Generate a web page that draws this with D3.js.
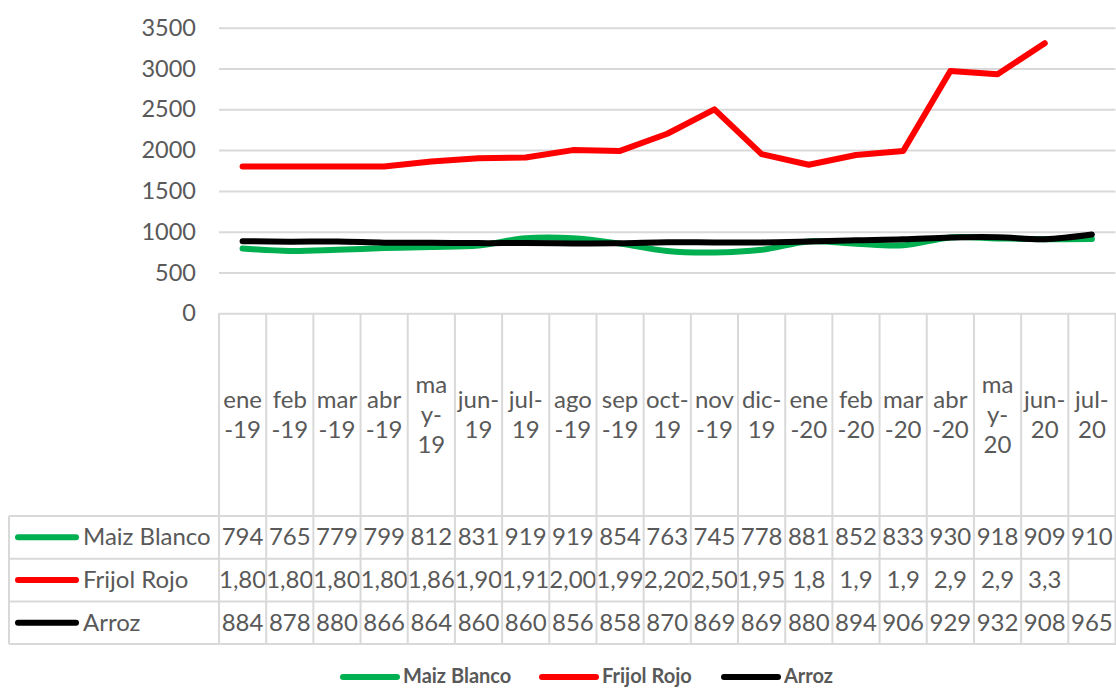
<!DOCTYPE html>
<html lang="es">
<head>
  <meta charset="UTF-8">
  <title>Precios granos básicos</title>
  <script src="https://cdnjs.cloudflare.com/ajax/libs/d3/7.8.5/d3.min.js"></script>
  <style>
    body { margin: 0; background: #fff; }
    text { font-family: Lato, "Open Sans", sans-serif; fill: #595959; }
    .grid line { stroke: #d9d9d9; stroke-width: 2; }
    .grid .domain { display: none; }
    .grid text { font-size: 23.5px; }
    .tbl { stroke: #d9d9d9; stroke-width: 2; }
    .cell { font-size: 24px; }
    .legend text { font-size: 20px; font-weight: bold; }
  </style>
</head>
<body>
  <div id="chart"></div>
  <script>
    // categories (months) and the way Excel wrapped them in the table header
    var categories = ["ene-19","feb-19","mar-19","abr-19","may-19","jun-19","jul-19","ago-19","sep-19","oct-19",
                      "nov-19","dic-19","ene-20","feb-20","mar-20","abr-20","may-20","jun-20","jul-20"];
    var tickLines = [["ene","-19"],["feb","-19"],["mar","-19"],["abr","-19"],["ma","y-","19"],["jun-","19"],["jul-","19"],
                     ["ago","-19"],["sep","-19"],["oct-","19"],["nov","-19"],["dic-","19"],["ene","-20"],["feb","-20"],
                     ["mar","-20"],["abr","-20"],["ma","y-","20"],["jun-","20"],["jul-","20"]];
    var yTicks = [0, 500, 1000, 1500, 2000, 2500, 3000, 3500];

    // series values
    var maizBlanco = [794,765,779,799,812,831,919,919,854,763,745,778,881,852,833,930,918,909,910];
    var frijolRojo = [1800,1800,1800,1800,1860,1900,1910,2000,1990,2200,2500,1950,1820,1940,1990,2970,2930,3310,null];
    var arroz      = [884,878,880,866,864,860,860,856,858,870,869,869,880,894,906,929,932,908,965];

    // text shown in the data table (Frijol Rojo cells are clipped in the original)
    var maizText   = maizBlanco.map(String);
    var frijolText = ["1,80","1,80","1,80","1,80","1,86","1,90","1,91","2,00","1,99","2,20","2,50","1,95",
                      "1,8","1,9","1,9","2,9","2,9","3,3",""];
    var arrozText  = arroz.map(String);

    var series = [
      {name: "Maiz Blanco", values: maizBlanco, text: maizText,   color: "#00b050", smooth: true},
      {name: "Frijol Rojo", values: frijolRojo, text: frijolText, color: "#ff0000", smooth: false},
      {name: "Arroz",       values: arroz,      text: arrozText,  color: "#000000", smooth: true}
    ];

    var W = 1116, H = 688;
    var plotLeft = 219, plotRight = 1115.5, plotTop = 27.7, plotBottom = 313.3;
    var tableTop = 516, rowH = 42.7, tableLeft = 9;

    var svg = d3.select("#chart").append("svg")
        .attr("width", W)
        .attr("height", H);

    var x = d3.scaleBand().domain(categories).range([plotLeft, plotRight]);
    var y = d3.scaleLinear().domain([0, 3500]).range([plotBottom, plotTop]);

    // horizontal gridlines + y labels
    svg.append("g")
        .attr("class", "grid")
        .attr("transform", "translate(" + plotLeft + ",0)")
        .call(d3.axisLeft(y).tickValues(yTicks).tickSize(-(plotRight - plotLeft)).tickPadding(23).tickFormat(d3.format("d")));

    // category header + data table grid
    var tableBottom = tableTop + rowH * series.length;
    var bounds = categories.map(function(c) { return x(c); }).concat([plotRight]);
    svg.append("g").selectAll("line.v")
      .data(bounds)
      .join("line")
        .attr("class", "tbl")
        .attr("x1", function(d) { return d; }).attr("x2", function(d) { return d; })
        .attr("y1", plotBottom).attr("y2", tableBottom);
    svg.append("g").selectAll("line.h")
      .data(d3.range(series.length + 1))
      .join("line")
        .attr("class", "tbl")
        .attr("x1", tableLeft).attr("x2", W)
        .attr("y1", function(i) { return tableTop + i * rowH; })
        .attr("y2", function(i) { return tableTop + i * rowH; });
    svg.append("line").attr("class", "tbl")
        .attr("x1", tableLeft).attr("x2", tableLeft)
        .attr("y1", tableTop).attr("y2", tableBottom);

    // wrapped category labels
    var headMid = (plotBottom + tableTop) / 2, lineGap = 30;
    categories.forEach(function(c, i) {
      var lines = tickLines[i];
      var t = svg.append("text")
          .attr("class", "cell")
          .attr("text-anchor", "middle");
      lines.forEach(function(s, k) {
        t.append("tspan")
          .attr("x", x(c) + x.bandwidth() / 2)
          .attr("y", headMid - (lines.length - 1) * lineGap / 2 + 8 + k * lineGap)
          .text(s);
      });
    });

    // table rows
    var defs = svg.append("defs");
    series.forEach(function(s, r) {
      var cy = tableTop + rowH * r + rowH / 2;
      svg.append("line")
          .attr("x1", 18).attr("x2", 76)
          .attr("y1", cy).attr("y2", cy)
          .attr("stroke", s.color).attr("stroke-width", 6).attr("stroke-linecap", "round");
      svg.append("text").attr("class", "cell")
          .attr("x", 83).attr("y", cy + 8)
          .text(s.name);
      categories.forEach(function(c, i) {
        var id = "clip" + r + "_" + i;
        defs.append("clipPath").attr("id", id)
          .append("rect")
            .attr("x", x(c) + 1).attr("y", cy - rowH / 2)
            .attr("width", x.bandwidth() - 2).attr("height", rowH);
        svg.append("text").attr("class", "cell")
            .attr("clip-path", "url(#" + id + ")")
            .attr("text-anchor", "middle")
            .attr("x", x(c) + x.bandwidth() / 2).attr("y", cy + 8)
            .text(s.text[i]);
      });
    });

    // lines
    series.forEach(function(s) {
      var line = d3.line()
          .defined(function(d) { return d != null; })
          .x(function(d, i) { return x(categories[i]) + x.bandwidth() / 2; })
          .y(function(d) { return y(d); })
          .curve(s.smooth ? d3.curveCatmullRom.alpha(0.5) : d3.curveLinear);
      svg.append("path")
          .datum(s.values)
          .attr("fill", "none")
          .attr("stroke", s.color)
          .attr("stroke-width", 6)
          .attr("stroke-linecap", "round")
          .attr("stroke-linejoin", "round")
          .attr("d", line);
    });

    // legend at the bottom (kept just inside the frame)
    var legX = [341, 540, 722];
    var leg = svg.append("g").attr("class", "legend");
    series.forEach(function(s, i) {
      leg.append("line")
          .attr("x1", legX[i] + 2).attr("x2", legX[i] + 56)
          .attr("y1", 677).attr("y2", 677)
          .attr("stroke", s.color).attr("stroke-width", 6).attr("stroke-linecap", "round");
      leg.append("text")
          .attr("x", legX[i] + 62).attr("y", 683)
          .text(s.name);
    });
  </script>
</body>
</html>
